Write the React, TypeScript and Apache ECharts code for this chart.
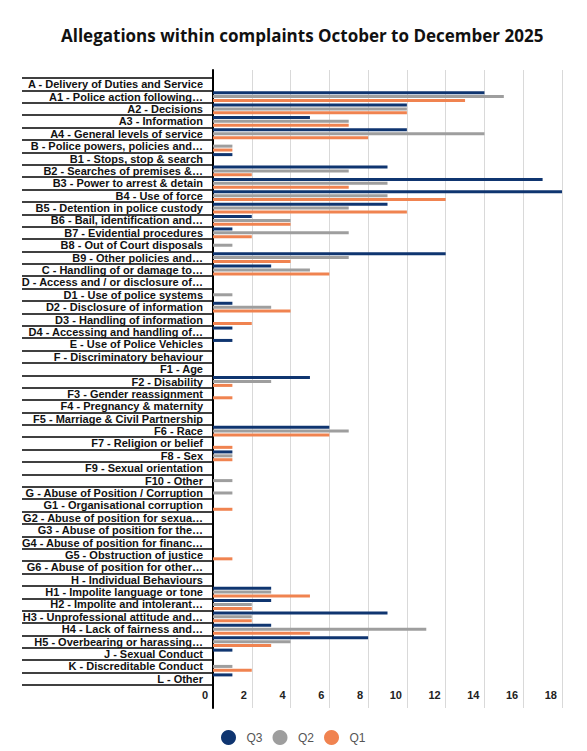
import { useEffect, useRef } from "react";
import * as echarts from "echarts";

const TITLE = "Allegations within complaints October to December 2025";

const categories = [
  "A - Delivery of Duties and Service",
  "A1 - Police action following…",
  "A2 - Decisions",
  "A3 - Information",
  "A4 - General levels of service",
  "B - Police powers, policies and…",
  "B1 - Stops, stop & search",
  "B2 - Searches of premises &…",
  "B3 - Power to arrest & detain",
  "B4 - Use of force",
  "B5 - Detention in police custody",
  "B6 - Bail, identification and…",
  "B7 - Evidential procedures",
  "B8 - Out of Court disposals",
  "B9 - Other policies and…",
  "C - Handling of or damage to…",
  "D - Access and / or disclosure of…",
  "D1 - Use of police systems",
  "D2 - Disclosure of information",
  "D3 - Handling of information",
  "D4 - Accessing and handling of…",
  "E - Use of Police Vehicles",
  "F - Discriminatory behaviour",
  "F1 - Age",
  "F2 - Disability",
  "F3 - Gender reassignment",
  "F4 - Pregnancy & maternity",
  "F5 - Marriage & Civil Partnership",
  "F6 - Race",
  "F7 - Religion or belief",
  "F8 - Sex",
  "F9 - Sexual orientation",
  "F10 - Other",
  "G - Abuse of Position / Corruption",
  "G1 - Organisational corruption",
  "G2 - Abuse of position for sexua…",
  "G3 - Abuse of position for the…",
  "G4 - Abuse of position for financ…",
  "G5 - Obstruction of justice",
  "G6 - Abuse of position for other…",
  "H - Individual Behaviours",
  "H1 - Impolite language or tone",
  "H2 - Impolite and intolerant…",
  "H3 - Unprofessional attitude and…",
  "H4 - Lack of fairness and…",
  "H5 - Overbearing or harassing…",
  "J - Sexual Conduct",
  "K - Discreditable Conduct",
  "L - Other",
];

const q3 = [
  0, 14, 10, 5, 10, 0, 1, 9, 17, 18, 9, 2, 1, 0, 12, 3, 0, 0, 1, 0, 1, 1, 0, 0, 5,
  0, 0, 0, 6, 0, 1, 0, 0, 0, 0, 0, 0, 0, 0, 0, 0, 3, 3, 9, 3, 8, 1, 0, 1,
];
const q2 = [
  0, 15, 10, 7, 14, 1, 0, 7, 9, 9, 7, 4, 7, 1, 7, 5, 0, 1, 3, 0, 0, 0, 0, 0, 3,
  0, 0, 0, 7, 0, 1, 0, 1, 1, 0, 0, 0, 0, 0, 0, 0, 3, 2, 2, 11, 4, 0, 1, 0,
];
const q1 = [
  0, 13, 10, 7, 8, 1, 0, 2, 7, 12, 10, 4, 2, 0, 4, 6, 0, 0, 4, 2, 0, 0, 0, 0, 1,
  1, 0, 0, 6, 1, 1, 0, 0, 0, 1, 0, 0, 0, 1, 0, 0, 5, 2, 2, 5, 3, 0, 2, 0,
];

const seriesNames = ["Q3", "Q2", "Q1"];
const seriesColors = ["#0f3570", "#9e9e9e", "#f08350"];

const X_MIN = 0;
const X_MAX = 18;
const X_STEP = 2;

const LABEL_FONT = "'Liberation Sans', Arial, sans-serif";

export default function App() {
  const ref = useRef<HTMLDivElement>(null);

  useEffect(() => {
    if (!ref.current) return;
    const chart = echarts.init(ref.current, undefined, { renderer: "svg" });
    const values = [q3, q2, q1];

    chart.setOption({
      animation: false,
      backgroundColor: "#ffffff",
      title: {
        text: TITLE,
        left: 56,
        top: 22,
        textStyle: {
          fontFamily: "'Open Sans', sans-serif",
          fontWeight: 700,
          fontSize: 17,
          color: "#111111",
        },
      },
      legend: {
        data: seriesNames,
        icon: "circle",
        itemWidth: 26,
        itemHeight: 15,
        itemGap: 10,
        left: 216,
        top: 725,
        textStyle: { color: "#555555", fontSize: 12, fontFamily: LABEL_FONT },
      },
      grid: [
        { left: 213, right: 25, top: 78, bottom: 66 },
        { left: 213, right: 25, top: 70, bottom: 43 },
      ],
      xAxis: [
        {
          gridIndex: 0,
          type: "value",
          min: X_MIN,
          max: X_MAX,
          interval: X_STEP,
          axisLine: { show: false },
          axisTick: { show: false },
          splitLine: { show: false },
          axisLabel: {
            margin: 4,
            align: "right",
            padding: [0, 5, 0, 0],
            fontFamily: LABEL_FONT,
            fontWeight: "bold",
            fontSize: 11,
            color: "#222222",
          },
        },
        {
          gridIndex: 1,
          type: "value",
          min: X_MIN,
          max: X_MAX,
          interval: X_STEP,
          axisLine: { show: false },
          axisTick: { show: false },
          axisLabel: { show: false },
          splitLine: { show: true, lineStyle: { color: "#d9d9d9", width: 1 } },
        },
      ],
      yAxis: [
        {
          gridIndex: 0,
          type: "category",
          data: categories,
          inverse: true,
          axisLine: { show: false },
          axisTick: {
            show: true,
            interval: 0,
            length: 191,
            lineStyle: { color: "#000000", width: 1.5 },
          },
          axisLabel: {
            interval: 0,
            margin: 10,
            fontFamily: LABEL_FONT,
            fontWeight: "bold",
            fontSize: 11,
            color: "#111111",
          },
          splitLine: { show: false },
        },
        {
          gridIndex: 1,
          type: "value",
          min: 0,
          max: 1,
          axisLine: { show: true, onZero: false, lineStyle: { color: "#000000", width: 2 } },
          axisTick: { show: false },
          axisLabel: { show: false },
          splitLine: { show: false },
        },
      ],
      series: seriesNames.map((name, i) => ({
        name,
        type: "bar",
        xAxisIndex: 0,
        yAxisIndex: 0,
        data: values[i],
        barWidth: 3,
        barGap: "30%",
        itemStyle: { color: seriesColors[i] },
      })),
    });

    return () => chart.dispose();
  }, []);

  return (
    <div
      ref={ref}
      style={{ position: "fixed", left: 0, top: 0, width: 587, height: 751 }}
    />
  );
}
